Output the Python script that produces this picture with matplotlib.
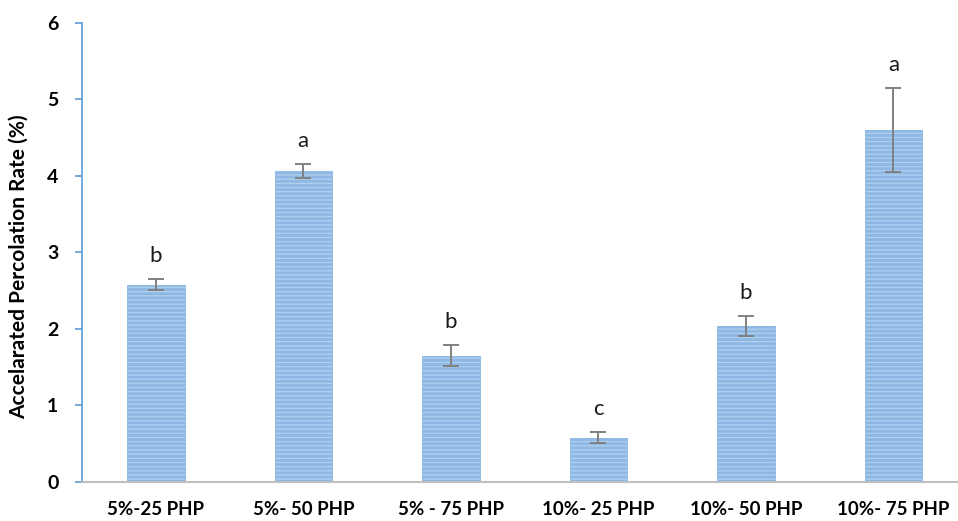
import matplotlib
matplotlib.use("Agg")
import matplotlib.pyplot as plt
import numpy as np

plt.rcParams['hatch.color'] = '#5B98D6'
plt.rcParams['hatch.linewidth'] = 2.0

categories = ["5%-25 PHP", "5%- 50 PHP", "5% - 75 PHP", "10%- 25 PHP", "10%- 50 PHP", "10%- 75 PHP"]
values = [2.58, 4.07, 1.65, 0.58, 2.04, 4.60]
errors = [0.07, 0.09, 0.14, 0.07, 0.13, 0.55]
letters = ["b", "a", "b", "c", "b", "a"]
yticks = [0, 1, 2, 3, 4, 5, 6]

fig = plt.figure(figsize=(9.58, 5.21), dpi=100)
ax = fig.add_axes([0.0856, 0.0749, 0.924, 0.881])

x = np.arange(len(categories))
ax.bar(x, values, width=0.39, color='#B0CEEE', edgecolor='#8DB8E3',
       linewidth=0.6, hatch='----', zorder=2)
ax.errorbar(x, values, yerr=errors, fmt='none', ecolor='#808080',
            elinewidth=1.4, capsize=6, capthick=1.4, zorder=3)

for xi, v, e, t in zip(x, values, errors, letters):
    ax.text(xi, v + e + 0.17, t, ha='center', va='bottom',
            fontsize=16, family='Lato', color='#1a1a1a')

ax.set_xlim(-0.5, 5.5)
ax.set_ylim(0, 6)
ax.set_yticks(yticks)
ax.set_yticklabels([str(t) for t in yticks], fontsize=14, fontweight='bold',
                   family='Lato')
ax.set_xticks(x)
ax.set_xticklabels(categories, fontsize=13.5, fontweight='bold', family='Lato')
ax.tick_params(axis='x', length=0, pad=14)
ax.tick_params(axis='y', length=5, color='#5B9BD5', width=1.2, pad=12)

ax.set_ylabel("Accelarated Percolation Rate (%)", fontsize=15, fontweight='bold',
              family='Lato')
ax.yaxis.set_label_coords(-0.06, 0.47)

ax.spines['top'].set_visible(False)
ax.spines['right'].set_visible(False)
ax.spines['left'].set_color('#5B9BD5')
ax.spines['left'].set_linewidth(1.2)
ax.spines['bottom'].set_color('#BFBFBF')
ax.spines['bottom'].set_linewidth(1.5)

fig.savefig("out.png", dpi=100)
